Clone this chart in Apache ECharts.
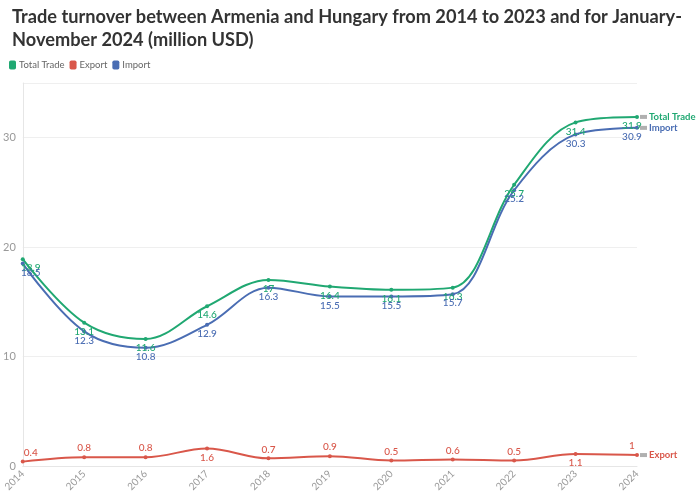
<!DOCTYPE html>
<html><head><meta charset="utf-8">
<script src="https://cdn.jsdelivr.net/npm/echarts@6/dist/echarts.min.js"></script>
<style>html,body{margin:0;padding:0;background:#fff}#c{width:700px;height:503px}</style>
</head><body><div id="c"></div>
<script>
const years = ['2014','2015','2016','2017','2018','2019','2020','2021','2022','2023','2024'];
const totalTrade = [18.9, 13.1, 11.6, 14.6, 17, 16.4, 16.1, 16.3, 25.7, 31.4, 31.9];
const exportVals = [0.4, 0.8, 0.8, 1.6, 0.7, 0.9, 0.5, 0.6, 0.5, 1.1, 1];
const importVals = [18.5, 12.3, 10.8, 12.9, 16.3, 15.5, 15.5, 15.7, 25.2, 30.3, 30.9];
const exportBelow = [3, 9];

const GREEN = '#20a872', RED = '#d9574a', BLUE = '#4a6db3';
const FONT = 'Lato, "Open Sans", sans-serif';

function endLabel(name, color) {
  return {
    show: true, distance: 3,
    formatter: '{b|}{n|' + name + '}',
    rich: {
      b: { backgroundColor: '#b0b0b0', width: 7, height: 4, padding: 0 },
      n: { color: color, fontWeight: 'bold', fontSize: 9.5, fontFamily: FONT, padding: [0, 0, 0, 2] }
    }
  };
}
function edgeShift(vals, extra) {
  const n = vals.length;
  return vals.map((v, i) => {
    const lab = Object.assign({}, extra ? extra(i) : {});
    if (i === 0) lab.offset = [8, 0];
    if (i === n - 1) lab.offset = [-5, 0];
    return { value: v, label: lab };
  });
}

const chart = echarts.init(document.getElementById('c'));
chart.setOption({
  animation: false,
  textStyle: { fontFamily: FONT },
  title: {
    text: 'Trade turnover between Armenia and Hungary from 2014 to 2023 and for January-\nNovember 2024 (million USD)',
    left: 7, top: 1,
    textStyle: { fontSize: 18.2, fontWeight: 'bold', color: '#333', lineHeight: 23, fontFamily: FONT }
  },
  legend: {
    left: 4, top: 55, itemWidth: 7, itemHeight: 9, itemGap: 5,
    icon: 'roundRect',
    textStyle: { fontSize: 9.5, color: '#666', padding: [0, 0, 0, -2] },
    data: ['Total Trade', 'Export', 'Import']
  },
  grid: { left: 22, right: 63, top: 83, bottom: 37 },
  xAxis: {
    type: 'category', data: years, boundaryGap: false,
    axisLine: { lineStyle: { color: '#e6e6e6' } },
    axisTick: { show: false },
    axisLabel: { rotate: 45, fontSize: 10, color: '#999', margin: 6 }
  },
  yAxis: {
    type: 'value', min: 0, max: 35, interval: 10,
    axisLine: { show: true, lineStyle: { color: '#e6e6e6' } },
    axisTick: { show: false },
    splitLine: { lineStyle: { color: '#efefef' } },
    axisLabel: { fontSize: 11, color: '#999', margin: 7, showMaxLabel: false }
  },
  series: [
    {
      name: 'Total Trade', type: 'line', smooth: 0.35, data: edgeShift(totalTrade),
      color: GREEN, symbol: 'circle', symbolSize: 4, lineStyle: { width: 2 },
      label: { show: true, position: 'bottom', distance: 2, fontSize: 10, fontWeight: 500, color: GREEN },
      endLabel: endLabel('Total Trade', GREEN), z: 3
    },
    {
      name: 'Export', type: 'line', smooth: 0.35,
      data: edgeShift(exportVals, i => ({ position: exportBelow.includes(i) ? 'bottom' : 'top' })),
      color: RED, symbol: 'circle', symbolSize: 4, lineStyle: { width: 2 },
      label: { show: true, distance: 2, fontSize: 10, fontWeight: 500, color: RED },
      endLabel: endLabel('Export', RED)
    },
    {
      name: 'Import', type: 'line', smooth: 0.35, data: edgeShift(importVals),
      color: BLUE, symbol: 'circle', symbolSize: 4, lineStyle: { width: 2 },
      label: { show: true, position: 'bottom', distance: 2, fontSize: 10, fontWeight: 500, color: BLUE },
      endLabel: endLabel('Import', BLUE)
    }
  ]
});
</script></body></html>
